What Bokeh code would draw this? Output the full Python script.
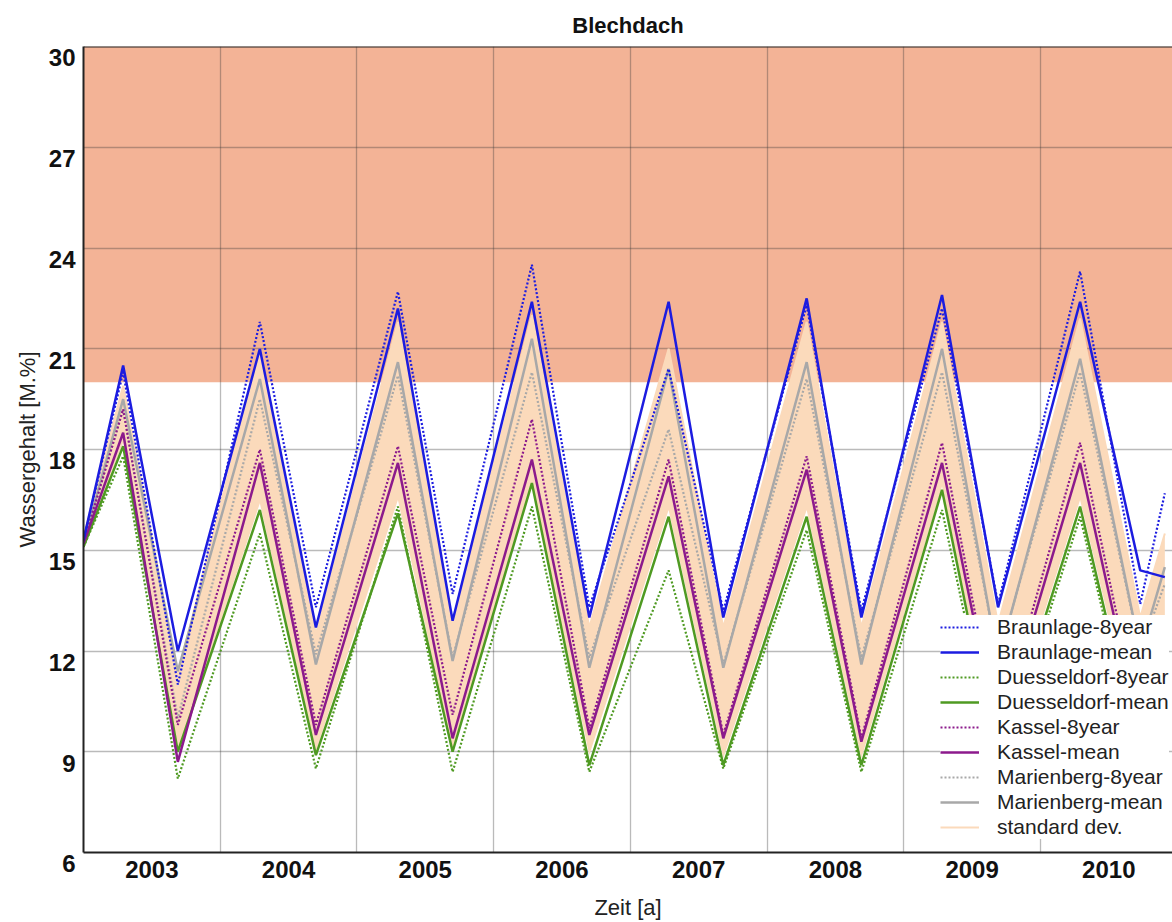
from bokeh.plotting import figure
from bokeh.models import FixedTicker, Span, Legend, LegendItem, Range1d
from bokeh.embed import file_html
from bokeh.resources import INLINE

# ---------------- data ----------------
year_label_pos = [2003.5, 2004.5, 2005.5, 2006.5, 2007.5, 2008.5, 2009.5, 2010.5]
year_labels = ["2003", "2004", "2005", "2006", "2007", "2008", "2009", "2010"]
year_bounds = [2003, 2004, 2005, 2006, 2007, 2008, 2009, 2010, 2011]
y_ticks = [6, 9, 12, 15, 18, 21, 24, 27, 30]
x_start, x_end = 2003.0, 2010.966

# critical range (water content above 20 M.%)
crit_low = [20.0]
crit_high = [30.0]

# key times: start, then peak / trough of every year, end
t = [2003.00, 2003.29, 2003.69, 2004.29, 2004.70, 2005.30, 2005.70, 2006.28, 2006.70,
     2007.28, 2007.68, 2008.29, 2008.69, 2009.28, 2009.69, 2010.29, 2010.73, 2010.91]

braunlage_8year = [15.3, 20.3, 11.0, 21.8, 13.3, 22.7, 13.7, 23.5, 13.3,
                   20.4, 13.2, 22.3, 13.2, 22.2, 13.4, 23.3, 13.4, 16.7]
braunlage_mean = [15.3, 20.5, 12.0, 21.0, 12.7, 22.2, 12.9, 22.4, 13.0,
                  22.4, 13.0, 22.5, 13.0, 22.6, 13.3, 22.4, 14.4, 14.2]
duesseldorf_8year = [15.1, 17.8, 8.2, 15.5, 8.5, 16.3, 8.4, 16.3, 8.4,
                     14.4, 8.5, 15.6, 8.4, 16.2, 8.4, 16.0, 8.5, 9.5]
duesseldorf_mean = [15.1, 18.1, 9.0, 16.2, 8.9, 16.1, 9.0, 17.0, 8.6,
                    16.0, 8.6, 16.0, 8.6, 16.8, 8.6, 16.3, 8.7, 9.5]
kassel_8year = [15.2, 19.2, 9.8, 18.0, 9.8, 18.1, 10.1, 18.9, 9.7,
                17.7, 9.5, 17.8, 9.4, 18.2, 9.6, 18.2, 9.8, 10.5]
kassel_mean = [15.2, 18.5, 8.7, 17.6, 9.5, 17.6, 9.4, 17.7, 9.5,
               17.2, 9.4, 17.4, 9.3, 17.6, 9.4, 17.6, 9.5, 10.5]
marienberg_8year = [15.2, 19.2, 10.0, 19.5, 11.9, 20.2, 11.8, 20.3, 11.8,
                    18.6, 11.6, 20.1, 11.8, 20.3, 11.8, 20.3, 12.0, 14.0]
marienberg_mean = [15.2, 19.5, 11.4, 20.1, 11.6, 20.6, 11.7, 21.3, 11.5,
                   20.4, 11.5, 20.6, 11.6, 21.0, 11.7, 20.7, 12.0, 14.5]
std_upper = [15.4, 19.9, 11.3, 21.0, 12.5, 21.8, 12.8, 22.0, 12.7,
             21.0, 12.7, 21.8, 12.7, 21.8, 12.8, 21.9, 13.0, 15.5]
std_lower = [15.1, 18.2, 9.0, 16.4, 9.0, 16.5, 9.0, 16.9, 8.9,
             16.2, 8.8, 16.2, 8.8, 16.9, 8.8, 16.5, 9.0, 10.0]

# ---------------- styling ----------------
FONT = "Liberation Sans"
BLUE = "#1c1ce0"
GREEN = "#4f9a22"
PURPLE = "#8c1a8c"
GRAY = "#a8a8a8"
PEACH = "#fbdabb"
SALMON = "#f3b396"

p = figure(width=1172, height=922, output_backend="svg", toolbar_location=None,
           x_range=Range1d(x_start, x_end), y_range=Range1d(6, 30),
           min_border_left=83, min_border_right=0, min_border_top=46, min_border_bottom=70)

p.title.text = "Blechdach"
p.title.text_font = FONT
p.title.text_font_size = "22px"
p.title.text_font_style = "bold"
p.title.align = "center"
p.title.offset = 3
p.title.standoff = 18
p.title.text_color = "#111111"

p.outline_line_color = None
p.background_fill_color = "white"

# critical zone
p.quad(left=[x_start], right=[x_end], bottom=crit_low, top=crit_high,
       fill_color=SALMON, line_color=None, level="image")

# standard deviation band
p.varea(x=t, y1=std_lower, y2=std_upper, fill_color=PEACH)
r_std = p.line(t, std_upper, line_color=PEACH, line_width=2)

r_m8 = p.line(t, marienberg_8year, line_color=GRAY, line_width=2.2, line_dash="2 2")
r_mm = p.line(t, marienberg_mean, line_color=GRAY, line_width=2.5)
r_d8 = p.line(t, duesseldorf_8year, line_color=GREEN, line_width=2.2, line_dash="2 2")
r_dm = p.line(t, duesseldorf_mean, line_color=GREEN, line_width=2.5)
r_k8 = p.line(t, kassel_8year, line_color=PURPLE, line_width=2.2, line_dash="2 2")
r_km = p.line(t, kassel_mean, line_color=PURPLE, line_width=2.5)
r_b8 = p.line(t, braunlage_8year, line_color=BLUE, line_width=2.2, line_dash="2 2")
r_bm = p.line(t, braunlage_mean, line_color=BLUE, line_width=2.5)

# axes
p.xaxis.ticker = FixedTicker(ticks=year_label_pos)
p.xaxis.major_label_overrides = {pos: lab for pos, lab in zip(year_label_pos, year_labels)}
p.xgrid.ticker = FixedTicker(ticks=year_bounds)
p.yaxis.ticker = FixedTicker(ticks=y_ticks)
# an empty first line pushes each y label a little below its grid line, as in the original
p.yaxis.major_label_overrides = {v: "\n" + str(v) for v in y_ticks}
p.yaxis.major_label_text_line_height = 0.85

for ax in (p.xaxis[0], p.yaxis[0]):
    ax.major_label_text_font = FONT
    ax.major_label_text_font_size = "24px"
    ax.major_label_text_font_style = "bold"
    ax.major_label_text_color = "#111111"
    ax.axis_label_text_font = FONT
    ax.axis_label_text_font_size = "22px"
    ax.axis_label_text_font_style = "normal"
    ax.axis_label_text_color = "#222222"
    ax.axis_line_color = "#222222"
    ax.axis_line_width = 2
    ax.major_tick_line_color = None
    ax.minor_tick_line_color = None

p.xaxis.axis_label = "Zeit [a]"
p.yaxis.axis_label = "Wassergehalt [M.%]"
p.xaxis.major_label_standoff = 2
p.xaxis.axis_label_standoff = 14
p.yaxis.major_label_standoff = 2
p.yaxis.axis_label_standoff = 6

for g in (p.xgrid[0], p.ygrid[0]):
    g.grid_line_color = "#3a3a3a"
    g.grid_line_alpha = 0.35
    g.grid_line_width = 1.3

p.add_layout(Span(location=30, dimension="width", line_color="#222222", line_width=2))

legend = Legend(items=[
    LegendItem(label="Braunlage-8year", renderers=[r_b8]),
    LegendItem(label="Braunlage-mean", renderers=[r_bm]),
    LegendItem(label="Duesseldorf-8year", renderers=[r_d8]),
    LegendItem(label="Duesseldorf-mean", renderers=[r_dm]),
    LegendItem(label="Kassel-8year", renderers=[r_k8]),
    LegendItem(label="Kassel-mean", renderers=[r_km]),
    LegendItem(label="Marienberg-8year", renderers=[r_m8]),
    LegendItem(label="Marienberg-mean", renderers=[r_mm]),
    LegendItem(label="standard dev.", renderers=[r_std]),
], location=(857, 13))
legend.label_text_font = FONT
legend.label_text_font_size = "21px"
legend.label_text_color = "#222222"
legend.glyph_width = 39
legend.glyph_height = 20
legend.label_height = 20
legend.label_standoff = 18
legend.spacing = 1
legend.padding = 12
legend.margin = 0
legend.border_line_color = None
legend.background_fill_color = "white"
legend.background_fill_alpha = 1.0
p.add_layout(legend)

open("out.html", "w").write(file_html(p, INLINE))
